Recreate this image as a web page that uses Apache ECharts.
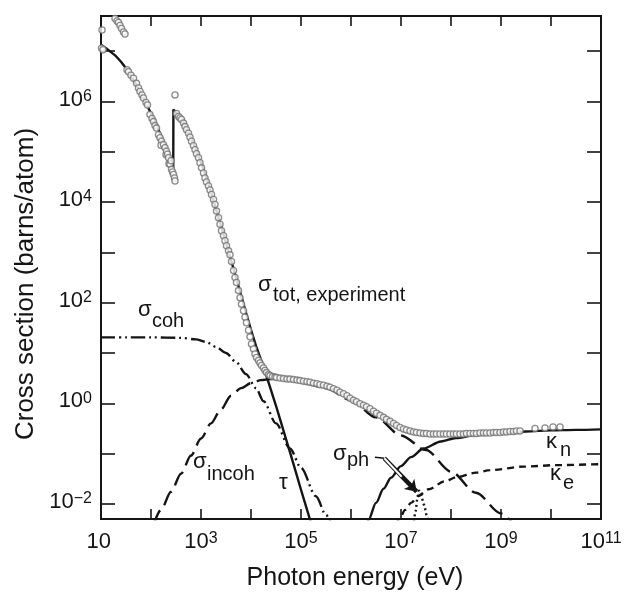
<!DOCTYPE html>
<html><head><meta charset="utf-8">
<script src="https://cdn.jsdelivr.net/npm/echarts@6/dist/echarts.min.js"></script>
<style>html,body{margin:0;padding:0;background:#fff}#c{width:627px;height:592px}</style>
</head><body><div id="c"></div>
<script>
// All values, in decades: [log10(E / eV), log10(sigma / barns per atom)]
const xLabelExponents = [1, 3, 5, 7, 9, 11];
const yLabelExponents = [-2, 0, 2, 4, 6];
const xRange = [10, 1e11];
const yRange = [0.005, 5e7];

const expPts = [
  [1.02,7.42],[1.01,7.06],[1.04,7.03],[1.28,7.65],[1.32,7.60],[1.35,7.57],[1.38,7.51],[1.41,7.45],[1.45,7.38],[1.48,7.34],
  [1.52,6.63],[1.55,6.59],[1.6,6.52],[1.65,6.46],[1.71,6.36],[1.75,6.27],[1.78,6.2],[1.82,6.13],[1.85,6.07],[1.9,5.98],
  [1.93,5.93],[1.98,5.74],[2.02,5.66],[2.05,5.6],[2.08,5.52],[2.11,5.47],[2.15,5.34],[2.18,5.28],[2.21,5.21],[2.2,5.13],
  [2.25,5.14],[2.28,5.08],[2.3,4.94],[2.31,5.01],[2.33,4.95],[2.35,4.88],[2.36,4.76],[2.38,4.75],[2.4,4.82],[2.41,4.65],
  [2.43,4.60],[2.45,4.55],[2.47,4.48],[2.48,4.42],[2.48,6.13],[2.51,5.76],[2.55,5.70],[2.58,5.67],[2.61,5.64],[2.65,5.57],
  [2.68,5.50],[2.71,5.44],[2.75,5.37],[2.78,5.29],[2.81,5.21],[2.85,5.12],[2.88,5.04],[2.91,4.96],[2.95,4.88],[2.98,4.78],
  [3.01,4.68],[3.05,4.58],[3.08,4.48],[3.11,4.40],[3.15,4.32],[3.18,4.24],[3.21,4.15],[3.25,4.05],[3.28,3.95],[3.31,3.82],
  [3.35,3.69],[3.38,3.56],[3.41,3.43],[3.45,3.33],[3.48,3.23],[3.51,3.13],[3.55,3.03],[3.58,2.95],[3.61,2.82],[3.65,2.64],
  [3.68,2.50],[3.71,2.40],[3.75,2.24],[3.78,2.10],[3.81,1.97],[3.85,1.84],[3.88,1.71],[3.91,1.60],[3.95,1.45],[3.98,1.32],
  [4.01,1.18],[4.05,1.08],[4.08,0.98],[4.11,0.91],[4.15,0.85],[4.18,0.80],[4.21,0.75],[4.25,0.70],[4.28,0.65],[4.31,0.61],
  [4.35,0.57],[4.38,0.55],[4.43,0.53],[4.48,0.52],[4.51,0.51],[4.58,0.50],[4.65,0.49],[4.72,0.48],[4.78,0.48],[4.85,0.47],
  [4.92,0.46],[4.98,0.45],[5.05,0.44],[5.12,0.43],[5.18,0.42],[5.25,0.40],[5.32,0.39],[5.38,0.37],[5.45,0.36],[5.52,0.34],
  [5.58,0.32],[5.65,0.29],[5.72,0.26],[5.78,0.22],[5.85,0.19],[5.92,0.15],[5.98,0.10],[6.05,0.06],[6.11,0.03],[6.18,-0.01],
  [6.25,-0.04],[6.31,-0.07],[6.38,-0.11],[6.45,-0.16],[6.51,-0.20],[6.58,-0.24],[6.65,-0.28],[6.71,-0.32],[6.78,-0.36],[6.85,-0.40],
  [6.91,-0.44],[6.98,-0.48],[7.05,-0.51],[7.11,-0.53],[7.18,-0.55],[7.25,-0.57],[7.31,-0.58],[7.38,-0.59],[7.45,-0.60],[7.51,-0.60],
  [7.58,-0.61],[7.65,-0.61],[7.71,-0.61],[7.78,-0.61],[7.85,-0.61],[7.91,-0.61],[7.98,-0.61],[8.05,-0.61],[8.11,-0.61],[8.18,-0.61],
  [8.25,-0.61],[8.31,-0.60],[8.38,-0.60],[8.45,-0.60],[8.51,-0.60],[8.58,-0.59],[8.65,-0.59],[8.71,-0.59],[8.78,-0.59],[8.85,-0.58],
  [8.91,-0.58],[8.98,-0.58],[9.05,-0.57],[9.11,-0.57],[9.18,-0.56],[9.25,-0.56],[9.31,-0.55],[9.38,-0.55],[9.68,-0.50],[9.88,-0.49],
  [10.04,-0.47],[10.18,-0.47]
];
const tauPts = [
  [1.0,7.13],[1.1,7.06],[1.2,6.98],[1.3,6.90],[1.4,6.79],[1.5,6.66],[1.6,6.51],[1.7,6.35],[1.8,6.16],[1.9,5.97],
  [2.0,5.76],[2.1,5.55],[2.2,5.32],[2.3,5.09],[2.38,4.88],[2.445,4.68],[2.448,5.84],[2.5,5.78],[2.6,5.66],[2.7,5.48],
  [2.8,5.27],[2.9,5.04],[3.0,4.78],[3.1,4.51],[3.2,4.20],[3.3,3.86],[3.4,3.52],[3.5,3.19],[3.6,2.85],[3.7,2.50],
  [3.8,2.15],[3.9,1.80],[4.0,1.46],[4.1,1.14],[4.2,0.86],[4.3,0.57],[4.4,0.26],[4.5,-0.05],[4.6,-0.38],[4.7,-0.71],
  [4.8,-1.04],[4.9,-1.38],[5.0,-1.72],[5.1,-2.05],[5.2,-2.38]
];
const cohPts = [
  [1.0,1.31],[1.5,1.31],[2.0,1.31],[2.6,1.30],[2.9,1.27],[3.1,1.22],[3.3,1.12],[3.5,1.0],[3.7,0.82],[3.9,0.58],
  [4.1,0.30],[4.25,0.04],[4.5,-0.40],[4.78,-0.90],[5.0,-1.28],[5.3,-1.85],[5.5,-2.22],[5.62,-2.45]
];
const incohPts = [
  [2.05,-2.42],[2.2,-2.12],[2.4,-1.76],[2.6,-1.40],[2.8,-1.04],[3.0,-0.70],[3.2,-0.40],[3.4,-0.12],[3.6,0.15],[3.8,0.30],
  [4.0,0.40],[4.2,0.46],[4.4,0.48],[4.6,0.48],[4.8,0.46],[5.0,0.42],[5.5,0.30],[6.0,0.06],[6.5,-0.28],[7.0,-0.64],
  [7.5,-0.93],[8.0,-1.36],[8.5,-1.78],[9.0,-2.19],[9.25,-2.40]
];
const kappaNPts = [
  [6.28,-2.5],[6.35,-2.32],[6.5,-1.98],[6.65,-1.70],[6.8,-1.48],[7.0,-1.25],[7.2,-1.07],[7.45,-0.90],[7.8,-0.76],[8.1,-0.69],
  [8.5,-0.63],[9.0,-0.59],[9.5,-0.56],[10.0,-0.54],[10.5,-0.53],[11.0,-0.52]
];
const kappaEPts = [
  [6.9,-2.42],[6.98,-2.28],[7.08,-2.12],[7.2,-1.98],[7.35,-1.84],[7.55,-1.71],[7.88,-1.55],[8.11,-1.47],[8.5,-1.38],[8.78,-1.33],
  [9.45,-1.26],[10.11,-1.23],[11.0,-1.21]
];
const phPts = [
  [7.25,-2.45],[7.29,-2.15],[7.33,-1.88],[7.36,-1.74],[7.40,-1.82],[7.46,-2.02],[7.52,-2.25],[7.57,-2.45]
];
// sigma_ph pointer arrow (annotation), same units
const arrowTail = [[6.48,-1.074],[6.666,-1.094]];
const arrowShaft = [[6.666,-1.094],[7.314,-1.758]];
const arrowHollow = [[6.666,-1.094],[7.014,-1.460]];

const lin = p => [Math.pow(10, p[0]), Math.pow(10, p[1])];
const L = pts => pts.map(lin);

const FONT = '"Liberation Sans", Arial, Helvetica, sans-serif';
const INK = '#151515';
const PLOT = {left: 101, right: 26, top: 16, bottom: 73};
const H = 592 - PLOT.top - PLOT.bottom;
const ySpan = Math.log10(yRange[1]) - Math.log10(yRange[0]);
const tickGrid = {
  left: PLOT.left, right: PLOT.right,
  top: PLOT.top + (Math.log10(yRange[1]) - 7) / ySpan * H,
  bottom: PLOT.bottom + (-2 - Math.log10(yRange[0])) / ySpan * H
};

const rich = {
  b: {fontSize: 22, fontFamily: FONT, color: INK, lineHeight: 22, verticalAlign: 'bottom'},
  s: {fontSize: 16, fontFamily: FONT, color: INK, lineHeight: 16, verticalAlign: 'top', padding: [0, 0, 10, 0]}
};
const supLabel = e => '{b|10}{s|' + (e === 1 ? ' ' : (e < 0 ? '\u2212' + (-e) : e)) + '}';

const lineSeries = (name, pts, type, smooth) => ({
  name, type: 'line', xAxisIndex: 0, yAxisIndex: 0, data: L(pts),
  showSymbol: false, symbol: 'none', smooth: smooth ? 0.3 : false, smoothMonotone: 'x',
  lineStyle: {color: INK, width: 2.4, type: type}, z: 2, silent: true, clip: true
});

const ann = [
  {t: '\u03c3', x: 258, y: 285.4, fs: 22},
  {t: 'tot, experiment', x: 273, y: 295, fs: 20},
  {t: '\u03c3', x: 138, y: 310.4, fs: 22},
  {t: 'coh', x: 152, y: 321, fs: 20},
  {t: '\u03c3', x: 193, y: 462.4, fs: 22},
  {t: 'incoh', x: 207, y: 474, fs: 20},
  {t: '\u03c4', x: 279, y: 483.4, fs: 22},
  {t: '\u03c3', x: 333, y: 454.4, fs: 22},
  {t: 'ph', x: 347, y: 460, fs: 20},
  {t: '\u03ba', x: 546, y: 442.4, fs: 22},
  {t: 'n', x: 560, y: 450, fs: 20},
  {t: '\u03ba', x: 550, y: 474.4, fs: 22},
  {t: 'e', x: 563, y: 483, fs: 20}
];
const graphicEls = ann.map(a => ({
  type: 'text', x: a.x, y: a.y, z: 100, silent: true,
  style: {text: a.t, fill: INK, fontSize: a.fs, fontFamily: FONT, align: 'left', verticalAlign: 'middle'}
}));
graphicEls.push({
  type: 'text', x: 355, y: 578, z: 100, silent: true,
  style: {text: 'Photon energy (eV)', fill: INK, fontSize: 25, fontFamily: FONT, align: 'center', verticalAlign: 'middle'}
});
graphicEls.push({
  type: 'text', x: 26, y: 284, rotation: Math.PI / 2, z: 100, silent: true,
  style: {text: 'Cross section (barns/atom)', fill: INK, fontSize: 26, fontFamily: FONT, align: 'center', verticalAlign: 'middle'}
});

const tickStyle = len => ({show: true, inside: true, length: len, lineStyle: {color: INK, width: 1.6}});

const option = {
  animation: false,
  backgroundColor: '#fff',
  grid: [
    Object.assign({show: true, borderColor: INK, borderWidth: 2, backgroundColor: 'transparent', containLabel: false}, PLOT),
    Object.assign({show: false, containLabel: false}, PLOT),
    Object.assign({show: false, containLabel: false}, tickGrid)
  ],
  xAxis: [
    {gridIndex: 0, type: 'log', logBase: 10, min: xRange[0], max: xRange[1], show: false},
    {gridIndex: 1, type: 'value', min: 1, max: 11, interval: 1, position: 'bottom',
     axisLine: {show: false}, splitLine: {show: false}, axisTick: tickStyle(10),
     axisLabel: {show: true, margin: 12, rich: rich, showMinLabel: true, showMaxLabel: true,
       formatter: v => xLabelExponents.includes(v) ? supLabel(v) : ''}},
    {gridIndex: 1, type: 'value', min: 1, max: 11, interval: 1, position: 'top',
     axisLine: {show: false}, splitLine: {show: false}, axisTick: tickStyle(10), axisLabel: {show: false}},
    {gridIndex: 2, type: 'value', min: 0, max: 1, show: false}
  ],
  yAxis: [
    {gridIndex: 0, type: 'log', logBase: 10, min: yRange[0], max: yRange[1], show: false},
    {gridIndex: 2, type: 'value', min: -2, max: 7, interval: 1, position: 'left',
     axisLine: {show: false}, splitLine: {show: false}, axisTick: tickStyle(14),
     axisLabel: {show: true, margin: 9, rich: rich, padding: [0, 0, 4, 0], showMinLabel: true, showMaxLabel: true,
       formatter: v => yLabelExponents.includes(v) ? supLabel(v) : ''}},
    {gridIndex: 2, type: 'value', min: -2, max: 7, interval: 1, position: 'right',
     axisLine: {show: false}, splitLine: {show: false}, axisTick: tickStyle(14), axisLabel: {show: false}},
    {gridIndex: 1, type: 'value', min: 0, max: 1, show: false}
  ],
  graphic: {elements: graphicEls},
  series: [
    lineSeries('tau', tauPts, 'solid', false),
    lineSeries('coh', cohPts, [14, 4, 2, 4, 2, 4], true),
    lineSeries('incoh', incohPts, [16, 7], true),
    lineSeries('kappa_n', kappaNPts, 'solid', true),
    lineSeries('kappa_e', kappaEPts, [7, 5], true),
    lineSeries('ph', phPts, [2, 3], true),
    {name: 'tot exp', type: 'scatter', xAxisIndex: 0, yAxisIndex: 0, data: L(expPts),
     symbol: 'circle', symbolSize: 6.2, clip: true, z: 3, silent: true,
     itemStyle: {color: '#fff', borderColor: '#707070', borderWidth: 1.3}},
    {type: 'lines', coordinateSystem: 'cartesian2d', xAxisIndex: 0, yAxisIndex: 0, z: 4, silent: true,
     symbol: ['none', 'none'], lineStyle: {color: INK, width: 1.5, opacity: 1, curveness: 0},
     data: [{coords: L(arrowTail)}]},
    {type: 'lines', coordinateSystem: 'cartesian2d', xAxisIndex: 0, yAxisIndex: 0, z: 4, silent: true,
     symbol: ['none', 'arrow'], symbolSize: 11, lineStyle: {color: INK, width: 4.5, opacity: 1, curveness: 0},
     data: [{coords: L(arrowShaft)}]},
    {type: 'lines', coordinateSystem: 'cartesian2d', xAxisIndex: 0, yAxisIndex: 0, z: 5, silent: true,
     symbol: ['none', 'none'], lineStyle: {color: '#fff', width: 2, opacity: 1, curveness: 0},
     data: [{coords: L(arrowHollow)}]}
  ]
};
const chart = echarts.init(document.getElementById('c'), null, {renderer: 'canvas'});
chart.setOption(option);
</script></body></html>
